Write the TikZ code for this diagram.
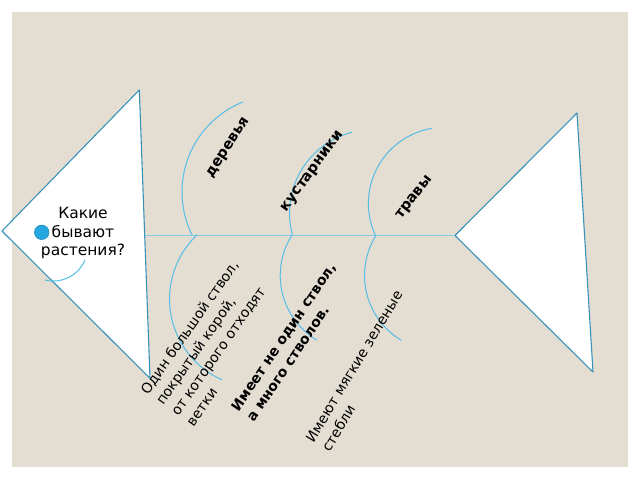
\documentclass[tikz,border=0pt]{standalone}
\usepackage{fontspec}
\setmainfont{DejaVu Sans}
\definecolor{bg}{HTML}{E3DDD2}
\definecolor{edge}{HTML}{3A92BA}
\definecolor{bone}{HTML}{55BEE6}
\definecolor{spinec}{HTML}{84CBE6}
\definecolor{dot}{HTML}{25A6E0}
\begin{document}
\begin{tikzpicture}[x=1pt,y=-1pt,
  tri/.style={draw=edge, fill=white, line width=1.1pt, line join=round},
  bonearc/.style={draw=bone, line width=1pt},
  lbl/.style={font=\fontsize{14.5}{17}\selectfont\bfseries, inner sep=0pt},
  note/.style={font=\fontsize{14}{18.5}\selectfont, align=left, inner sep=0pt},
  boldnote/.style={font=\fontsize{14}{18.5}\selectfont\bfseries, align=left, inner sep=0pt},
  headtxt/.style={font=\fontsize{15.5}{18.3}\selectfont, align=center, inner sep=0pt}
]
\useasboundingbox (0,0) rectangle (640,480);
\fill[bg] (12,12) rectangle (628,467);
% head and tail
\coordinate (LT) at (2,231);
\coordinate (LA) at (139.3,90);
\coordinate (LB) at (150,378.3);
\coordinate (RT) at (455,235.5);
\coordinate (RA) at (577,113);
\coordinate (RB) at (593,372);
\coordinate (S1) at (144.7,235.5);
\draw[tri] (LT) -- (LA) -- (LB) -- cycle;
\draw[tri] (RT) -- (RA) -- (RB) -- cycle;
\draw[spinec, line width=1.2pt] (S1) -- (RT);
% upper bones
\coordinate (U1) at (279,192);
\coordinate (U2) at (373,213);
\coordinate (U3) at (444.7,203.5);
\draw[bonearc] ([shift={(248.2:97)}]U1) arc[start angle=248.2, end angle=153.7, radius=97];
\draw[bonearc] ([shift={(255.3:83.5)}]U2) arc[start angle=255.3, end angle=164.8, radius=83.5];
\draw[bonearc] ([shift={(260.2:76.3)}]U3) arc[start angle=260.2, end angle=155.7, radius=76.3];
% lower bones
\coordinate (D1) at (258,299);
\coordinate (D2) at (355.5,275.5);
\coordinate (D3) at (440,275.5);
\draw[bonearc] ([shift={(226.4:88.5)}]D1) arc[start angle=226.4, end angle=114, radius=88.5];
\draw[bonearc] ([shift={(212.5:75.3)}]D2) arc[start angle=212.5, end angle=121, radius=75.3];
\draw[bonearc] ([shift={(212:75.5)}]D3) arc[start angle=212, end angle=121, radius=75.5];
% small arc near head text
\coordinate (H0) at (53.3,246.6);
\draw[bonearc] ([shift={(104:34.4)}]H0) arc[start angle=104, end angle=23, radius=34.4];
% head text
\node[headtxt] (head) at (83,233) {Какие\\бывают\\растения?};
\fill[dot, draw=dot!75!black, line width=0.4pt] (41.7,232.3) circle[radius=7.3];
% upper labels
\node[lbl, rotate=57] (trees) at (229,148) {деревья};
\node[lbl, rotate=54] (shrubs) at (313,172) {кустарники};
\node[lbl, rotate=52] (grass) at (415,198) {травы};
% lower notes
\node[note, rotate=55] (n1) at (212,343) {Один большой ствол,\\покрытый корой,\\от которого отходят\\ветки};
\node[boldnote, rotate=56] (n2) at (291,342) {Имеет не один ствол,\\а много стволов.};
\node[note, rotate=59] (n3) at (362,371) {Имеют мягкие зеленые\\стебли};
\end{tikzpicture}
\end{document}
